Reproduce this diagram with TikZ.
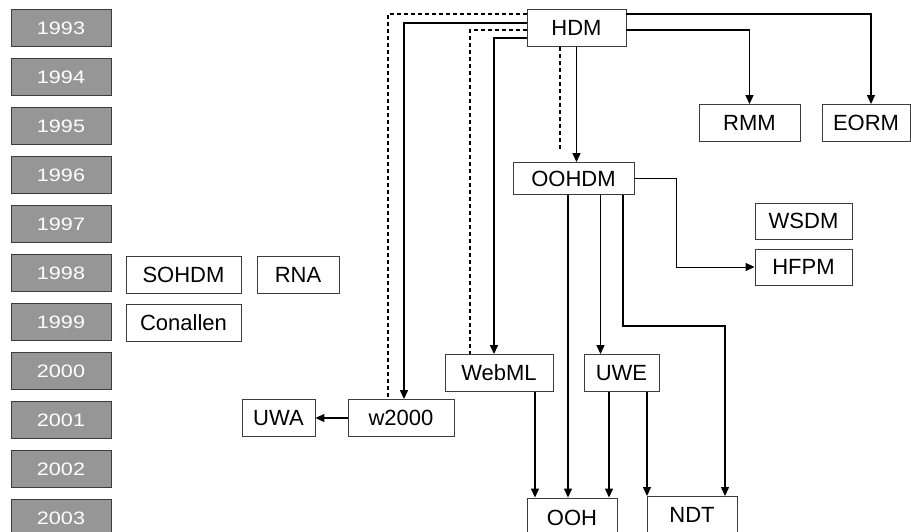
\documentclass[tikz,border=0pt]{standalone}
\usepackage{fontspec}
\setmainfont{Liberation Sans}
\newfontfamily\yearfont[FakeStretch=1.2]{Liberation Sans}
\usetikzlibrary{arrows.meta}
\definecolor{yeargray}{RGB}{150,150,150}
\definecolor{edgegray}{RGB}{60,60,60}
\tikzset{
  year/.style={draw=edgegray,fill=yeargray,text=white,line width=1pt,minimum width=100pt,minimum height=37pt,inner sep=0pt,font=\yearfont\fontsize{18}{21}\selectfont},
  method/.style={draw=edgegray,fill=white,line width=0.9pt,minimum height=37pt,inner sep=0pt,font=\fontsize{22}{26}\selectfont},
  link/.style={line width=1.3pt},
  arr/.style={link,-{Triangle[length=9pt,width=8pt]}},
  dashlink/.style={link,dash pattern=on 4pt off 3pt},
}
\begin{document}
\begin{tikzpicture}[x=1pt,y=-1pt]
\useasboundingbox (0,0) rectangle (911,532);
%Year column
\node [year] (y1993) at (61,28) {1993};
\node [year] (y1994) at (61,77) {1994};
\node [year] (y1995) at (61,126) {1995};
\node [year] (y1996) at (61,175) {1996};
\node [year] (y1997) at (61,224) {1997};
\node [year] (y1998) at (61,273) {1998};
\node [year] (y1999) at (61,322) {1999};
\node [year] (y2000) at (61,371) {2000};
\node [year] (y2001) at (61,420) {2001};
\node [year] (y2002) at (61,469) {2002};
\node [year] (y2003) at (61,518) {2003};

%Methods
\node [method,minimum width=99pt] (hdm) at (576.5,28) {HDM};
\node [method,minimum width=101pt] (rmm) at (749.5,123) {RMM};
\node [method,minimum width=88pt] (eorm) at (866,123) {EORM};
\node [method,minimum width=121pt,minimum height=32pt] (oohdm) at (573.5,178.5) {OOHDM};
\node [method,minimum width=97pt,minimum height=36pt] (wsdm) at (803.5,221) {WSDM};
\node [method,minimum width=97pt,minimum height=36pt] (hfpm) at (803.5,267) {HFPM};
\node [method,minimum width=115pt] (sohdm) at (183.5,274.5) {SOHDM};
\node [method,minimum width=82pt] (rna) at (298,274.5) {RNA};
\node [method,minimum width=115pt] (conallen) at (183.5,323) {Conallen};
\node [method,minimum width=108pt] (webml) at (499,373) {WebML};
\node [method,minimum width=75pt] (uwe) at (621.5,373) {UWE};
\node [method,minimum width=106pt] (w2000) at (401,418) {w2000};
\node [method,minimum width=73pt] (uwa) at (278.5,418) {UWA};
\node [method,minimum width=90pt,minimum height=40pt] (ooh) at (572,518) {OOH};
\node [method,minimum width=90pt] (ndt) at (692,515) {NDT};
\coordinate (ndtbend) at (725,326);

%From HDM
\draw [arr] ([yshift=-2pt]hdm.east) -| (rmm.north);
\draw [arr] ([yshift=14pt]hdm.east) -| ([xshift=5pt]eorm.north);
\draw [arr] (hdm.south) to (hdm.south |- oohdm.north);
\draw [dashlink] ([xshift=-16.5pt]hdm.south) to ([xshift=-16.5pt,yshift=12.5pt]hdm.south |- oohdm.north);
\draw [dashlink] ([yshift=-2pt]hdm.west) -| ([xshift=-29pt]webml.north);
\draw [arr] ([yshift=-10pt]hdm.west) -| ([xshift=-5pt]webml.north);
\draw [dashlink] ([yshift=14pt]hdm.west) -| ([xshift=-13pt]w2000.north);
\draw [arr] ([yshift=5pt]hdm.west) -| ([xshift=3pt]w2000.north);
\draw [arr] (w2000.west) to (uwa.east);

%From OOHDM
\draw [arr,line width=1pt] (oohdm.east) -| ([xshift=-78pt]hfpm.west) to (hfpm.west);
\draw [arr] ([xshift=-5.5pt]oohdm.south) to ([xshift=-5.5pt]oohdm.south |- ooh.north);
\draw [arr] ([xshift=27pt]oohdm.south) to ([xshift=27pt]oohdm.south |- uwe.north);
\draw [arr] ([xshift=49.5pt]oohdm.south) |- (ndtbend) to (ndtbend |- ndt.north);

%Into OOH and NDT
\draw [arr] ([xshift=36pt]webml.south) to ([xshift=36pt]webml.south |- ooh.north);
\draw [arr] ([xshift=-12.5pt]uwe.south) to ([xshift=-12.5pt]uwe.south |- ooh.north);
\draw [arr] ([xshift=25.5pt]uwe.south) to ([xshift=25.5pt]uwe.south |- ndt.north);
\end{tikzpicture}
\end{document}
